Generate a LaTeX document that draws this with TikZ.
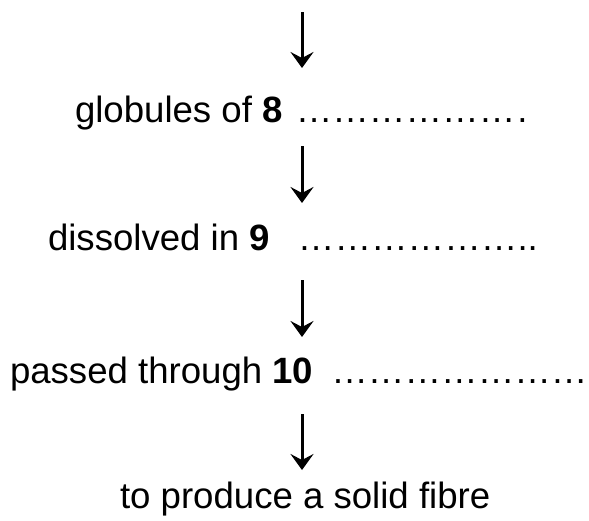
\documentclass[tikz,border=0pt]{standalone}
\usepackage{fontspec}
\setmainfont{Liberation Sans}
\usetikzlibrary{arrows.meta}
\begin{document}
\begin{tikzpicture}[x=1pt,y=-1pt,
  lbl/.style={anchor=base west,inner sep=0pt,outer sep=0pt,font=\fontsize{36.6}{40}\selectfont},
  flow/.style={line width=3pt,-{Stealth[length=16pt,width=23pt,inset=6pt]}}]
\useasboundingbox (0,0) rectangle (589,520);
\node[lbl] (t1) at (75,122) {globules of \textbf{8}\hspace{3pt} {…}{…}{…}{…}{…}{…}\hspace{2pt}.};
\node[lbl] (t2) at (48,250) {dissolved in \textbf{9}\hspace{18pt} {…}{…}{…}{…}{…}{…}..};
\node[lbl] (t3) at (10,383) {passed through \textbf{10}\hspace{8pt} {…}{…}{…}{…}{…}{…}{…}};
\node[lbl] (t4) at (120,508) {to produce a solid fibre};
\coordinate (a1s) at (302,12);  \coordinate (a1e) at (302,68);
\coordinate (a2s) at (302,146); \coordinate (a2e) at (302,203);
\coordinate (a3s) at (302,280); \coordinate (a3e) at (302,337);
\coordinate (a4s) at (302,414); \coordinate (a4e) at (302,470);
\draw[flow] (a1s) -- (a1e);
\draw[flow] (a2s) -- (a2e);
\draw[flow] (a3s) -- (a3e);
\draw[flow] (a4s) -- (a4e);
\end{tikzpicture}
\end{document}
